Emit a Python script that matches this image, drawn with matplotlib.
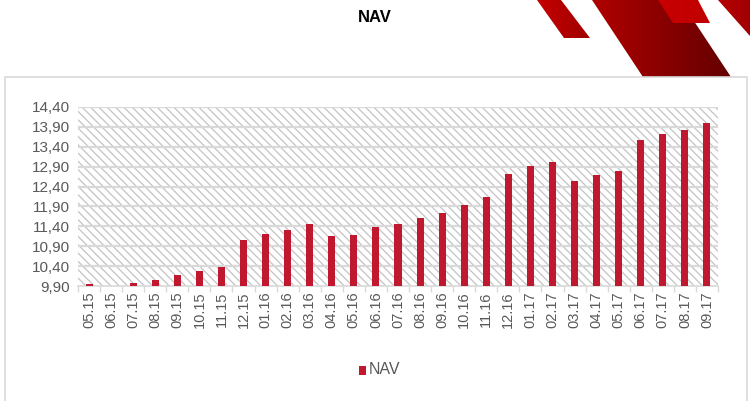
import matplotlib
matplotlib.use("Agg")
import matplotlib.pyplot as plt
import numpy as np
from matplotlib.colors import LinearSegmentedColormap
from matplotlib.patches import Polygon, Rectangle

months = ["05.15", "06.15", "07.15", "08.15", "09.15", "10.15", "11.15", "12.15",
          "01.16", "02.16", "03.16", "04.16", "05.16", "06.16", "07.16", "08.16",
          "09.16", "10.16", "11.16", "12.16", "01.17", "02.17", "03.17", "04.17",
          "05.17", "06.17", "07.17", "08.17", "09.17"]
nav = [9.95, 9.91, 9.97, 10.04, 10.17, 10.28, 10.38, 11.06,
       11.20, 11.32, 11.46, 11.16, 11.19, 11.39, 11.47, 11.61,
       11.74, 11.94, 12.14, 12.72, 12.91, 13.02, 12.55, 12.70,
       12.79, 13.56, 13.71, 13.83, 14.01]
yticks = [9.90, 10.40, 10.90, 11.40, 11.90, 12.40, 12.90, 13.40, 13.90, 14.40]

W, H = 750, 401
RED = "#c0192f"
GREY_TXT = "#595959"

plt.rcParams["font.family"] = ["Liberation Sans", "DejaVu Sans"]
plt.rcParams["hatch.linewidth"] = 0.9
plt.rcParams["hatch.color"] = "#c4c4c4"

fig = plt.figure(figsize=(W / 100, H / 100), dpi=100)

# фоновая ось в пикселях: рамка и декоративные полосы
bg = fig.add_axes([0, 0, 1, 1])
bg.set_zorder(-1)
bg.set_xlim(0, W)
bg.set_ylim(H, 0)
bg.axis("off")

bg.add_patch(Rectangle((5, 77), 742, 330, facecolor="white", edgecolor="#d9d9d9", lw=1.2))

stripes = [
    ([(537, 0), (561, 0), (590, 38), (564, 38)], "#c40000", "#a00000"),
    ([(592, 0), (680, 0), (731, 77), (643, 77)], "#b00000", "#640000"),
    ([(658, 0), (698, 0), (710, 23), (673, 23)], "#c80000", "#c00000"),
    ([(718, 0), (750, 0), (750, 36)], "#b80000", "#a00000"),
]
for pts, c0, c1 in stripes:
    poly = Polygon(pts, closed=True, facecolor="none", edgecolor="none")
    bg.add_patch(poly)
    xs = [p[0] for p in pts]
    ys = [p[1] for p in pts]
    cmap = LinearSegmentedColormap.from_list("g", [c0, c1])
    im = bg.imshow(np.linspace(0, 1, 64)[None, :], cmap=cmap, aspect="auto",
                   extent=(min(xs), max(xs), max(ys), min(ys)), interpolation="bilinear")
    im.set_clip_path(poly)
bg.set_xlim(0, W)
bg.set_ylim(H, 0)

fig.text(375 / W, 1 - 17 / H, "NAV", ha="center", va="center",
         fontsize=12, fontweight="bold", color="black")

ax = fig.add_axes([78 / W, 1 - 286 / H, 640 / W, 179 / H])
ax.set_zorder(2)
x = np.arange(len(months))
ax.set_xlim(-0.5, len(months) - 0.5)
ax.set_ylim(yticks[0], yticks[-1])

# штриховка фона
ax.add_patch(Rectangle((0, 0), 1, 1, transform=ax.transAxes, facecolor="white",
                       edgecolor="#c4c4c4", hatch="\\\\\\\\", lw=0, zorder=0))

ax.bar(x, np.array(nav) - yticks[0], bottom=yticks[0], width=0.32,
       color=RED, zorder=3)

for t in yticks[1:]:
    ax.axhline(t, color="#d9d9d9", lw=1.6, zorder=1)

ax.set_yticks(yticks)
ax.set_yticklabels([f"{t:.2f}".replace(".", ",") for t in yticks],
                   fontsize=11, color=GREY_TXT)
ax.set_xticks(x)
ax.set_xticklabels(months, rotation=90, fontsize=10.5, color=GREY_TXT)
ax.set_xticks(np.arange(-0.5, len(months), 1), minor=True)
ax.tick_params(axis="x", which="major", length=0, pad=4)
ax.tick_params(axis="x", which="minor", length=4, color="#d9d9d9", width=1)
ax.tick_params(axis="y", length=0, pad=6)
for s in ["top", "right", "left"]:
    ax.spines[s].set_visible(False)
ax.spines["bottom"].set_color("#d9d9d9")
ax.spines["bottom"].set_linewidth(1.2)

# легенда
fig.patches.append(Rectangle((359 / W, 1 - 375 / H), 7 / W, 9 / H,
                             transform=fig.transFigure, facecolor=RED, edgecolor="none"))
fig.text(369 / W, 1 - 370 / H, "NAV", ha="left", va="center",
         fontsize=11.5, color=GREY_TXT)

fig.savefig("out.png", dpi=100)
